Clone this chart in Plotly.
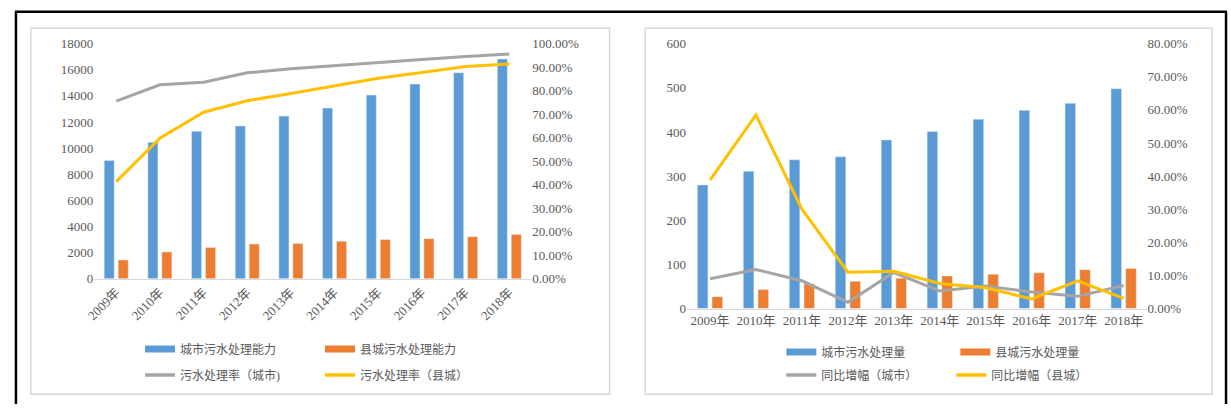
import plotly.graph_objects as go

years = ["2009年", "2010年", "2011年", "2012年", "2013年", "2014年", "2015年", "2016年", "2017年", "2018年"]

# Left chart: capacity and treatment rate
city_capacity = [9050, 10440, 11300, 11700, 12450, 13070, 14060, 14900, 15770, 16830]
county_capacity = [1440, 2050, 2400, 2650, 2700, 2870, 3000, 3070, 3220, 3390]
city_rate = [0.755, 0.825, 0.836, 0.876, 0.893, 0.905, 0.919, 0.932, 0.945, 0.956]
county_rate = [0.413, 0.598, 0.708, 0.757, 0.788, 0.821, 0.853, 0.877, 0.903, 0.913]

# Right chart: treatment volume and YoY growth
city_volume = [280, 311, 337, 344, 382, 401, 429, 449, 465, 498]
county_volume = [27, 43, 56, 62, 69, 74, 78, 81, 88, 91]
city_growth = [0.090, 0.118, 0.084, 0.019, 0.109, 0.053, 0.068, 0.050, 0.037, 0.070]
county_growth = [0.388, 0.585, 0.300, 0.110, 0.113, 0.076, 0.063, 0.029, 0.084, 0.031]

left_y_ticks = list(range(0, 18001, 2000))
left_y2_ticks = [i / 10 for i in range(0, 11)]
right_y_ticks = list(range(0, 601, 100))
right_y2_ticks = [i / 10 for i in range(0, 9)]

W, H = 1231, 412
BLUE, ORANGE, GRAY, YELLOW = "#5B9BD5", "#ED7D31", "#A5A5A5", "#FFC000"
FONT = "Liberation Serif, Noto Sans CJK SC"
TXT = "#595959"

def px(x):
    return x / W

def py(y):
    return 1 - y / H

fig = go.Figure()

# ---- left chart ----
fig.add_trace(go.Bar(x=years, y=city_capacity, marker_color=BLUE, xaxis="x", yaxis="y", showlegend=False))
fig.add_trace(go.Bar(x=years, y=county_capacity, marker_color=ORANGE, xaxis="x", yaxis="y", showlegend=False))
fig.add_trace(go.Scatter(x=years, y=city_rate, mode="lines", line=dict(color=GRAY, width=3), xaxis="x", yaxis="y2", showlegend=False))
fig.add_trace(go.Scatter(x=years, y=county_rate, mode="lines", line=dict(color=YELLOW, width=3), xaxis="x", yaxis="y2", showlegend=False))

# ---- right chart ----
fig.add_trace(go.Bar(x=years, y=city_volume, marker_color=BLUE, xaxis="x2", yaxis="y3", showlegend=False))
fig.add_trace(go.Bar(x=years, y=county_volume, marker_color=ORANGE, xaxis="x2", yaxis="y3", showlegend=False))
fig.add_trace(go.Scatter(x=years, y=city_growth, mode="lines", line=dict(color=GRAY, width=3), xaxis="x2", yaxis="y4", showlegend=False))
fig.add_trace(go.Scatter(x=years, y=county_growth, mode="lines", line=dict(color=YELLOW, width=3), xaxis="x2", yaxis="y4", showlegend=False))

# ---- legend entries ----
def leg(name, color, legend, width=3):
    fig.add_trace(go.Scatter(x=[None], y=[None], mode="lines", name=name,
                             line=dict(color=color, width=width), legend=legend,
                             xaxis="x", yaxis="y"))

leg("城市污水处理能力", BLUE, "legend", 7)
leg("县城污水处理能力", ORANGE, "legend", 7)
leg("污水处理率（城市)", GRAY, "legend2", 3.5)
leg("污水处理率（县城）", YELLOW, "legend2", 3.5)
leg("城市污水处理量", BLUE, "legend3", 7)
leg("县城污水处理量", ORANGE, "legend3", 7)
leg("同比增幅（城市）", GRAY, "legend4", 3.5)
leg("同比增幅（县城）", YELLOW, "legend4", 3.5)

tickfont = dict(family=FONT, size=13, color=TXT)
legfont = dict(family=FONT, size=12, color=TXT)

def legend_cfg(x, y, ew):
    return dict(orientation="h", x=px(x), y=py(y), xanchor="left", yanchor="middle",
                font=legfont, entrywidth=ew, entrywidthmode="pixels",
                bgcolor="rgba(0,0,0,0)", tracegroupgap=0, itemwidth=30)

L_X = [86, 526]
R_X = [683, 1146]

fig.update_layout(
    width=W, height=H,
    margin=dict(l=0, r=0, t=0, b=0),
    paper_bgcolor="white", plot_bgcolor="rgba(0,0,0,0)",
    barmode="group", bargap=0.36, bargroupgap=0.28,
    font=dict(family=FONT, color=TXT),
    xaxis=dict(domain=[px(L_X[0]), px(L_X[1])], anchor="y", tickangle=-45,
               tickfont=tickfont, showgrid=False, showline=True, linecolor="#D9D9D9",
               linewidth=1, ticks="", zeroline=False),
    yaxis=dict(domain=[py(282), py(38)], range=[0, 18000], tickvals=left_y_ticks,
               tickformat="d", tickfont=tickfont, showgrid=False, zeroline=False,
               showline=False, ticks="", ticklen=0),
    yaxis2=dict(domain=[py(282), py(38)], overlaying="y", side="right", anchor="x",
                range=[0, 1.0], tickvals=left_y2_ticks, tickformat=".2%",
                tickfont=tickfont, showgrid=False, zeroline=False, showline=False, ticks=""),
    xaxis2=dict(domain=[px(R_X[0]), px(R_X[1])], anchor="y3", tickangle=0,
                tickfont=tickfont, showgrid=False, showline=True, linecolor="#D9D9D9",
                linewidth=1, ticks="", zeroline=False),
    yaxis3=dict(domain=[py(313), py(38)], anchor="x2", range=[0, 600], tickvals=right_y_ticks,
                tickfont=tickfont, showgrid=False, zeroline=False, showline=False, ticks=""),
    yaxis4=dict(domain=[py(313), py(38)], overlaying="y3", side="right", anchor="x2",
                range=[0, 0.8], tickvals=right_y2_ticks, tickformat=".2%",
                tickfont=tickfont, showgrid=False, zeroline=False, showline=False, ticks=""),
    legend=legend_cfg(132, 355, 135),
    legend2=legend_cfg(132, 382, 135),
    legend3=legend_cfg(778, 358, 129),
    legend4=legend_cfg(778, 382, 125),
    shapes=[
        # chart frames
        dict(type="rect", xref="paper", yref="paper", x0=px(22), x1=px(605), y0=py(402), y1=py(22),
             line=dict(color="#D9D9D9", width=1.5)),
        dict(type="rect", xref="paper", yref="paper", x0=px(641), x1=px(1212), y0=py(402), y1=py(22),
             line=dict(color="#D9D9D9", width=1.5)),
        # outer black border
        dict(type="line", xref="paper", yref="paper", x0=px(6), x1=px(1227), y0=py(5), y1=py(5),
             line=dict(color="black", width=2.5)),
        dict(type="line", xref="paper", yref="paper", x0=px(7), x1=px(7), y0=py(5), y1=0,
             line=dict(color="black", width=2.5)),
        dict(type="line", xref="paper", yref="paper", x0=px(1226), x1=px(1226), y0=py(5), y1=0,
             line=dict(color="black", width=2.5)),
    ],
)

fig.write_html("out.html",
               config={"displayModeBar": False},
               post_script="document.body.style.margin='0';document.body.style.overflow='hidden';")
